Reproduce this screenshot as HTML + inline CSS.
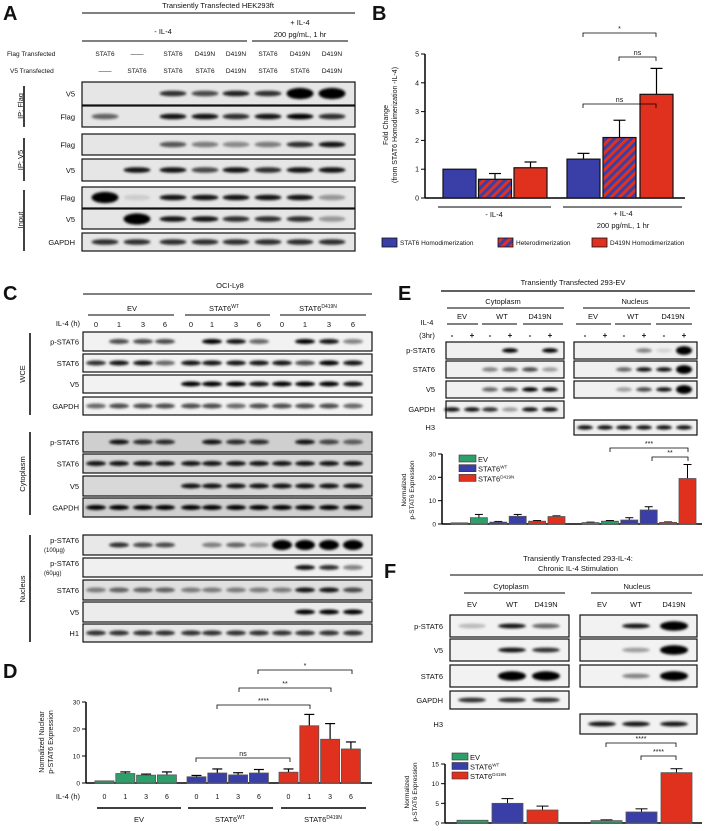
<!DOCTYPE html>
<html><head><meta charset="utf-8"><style>
body{margin:0;background:#fff}
svg{display:block;font-family:"Liberation Sans",Arial,sans-serif}
</style></head><body>
<svg id="fig" width="708" height="831" viewBox="0 0 708 831" xmlns="http://www.w3.org/2000/svg">
<defs>
<filter id="bl" x="-50%" y="-50%" width="200%" height="200%"><feGaussianBlur stdDeviation="1.3"/></filter>
<pattern id="hatch" width="6" height="6" patternUnits="userSpaceOnUse" patternTransform="rotate(45)">
<rect width="6" height="6" fill="#3a3fa8"/><rect width="3" height="6" fill="#e0301e"/></pattern>
</defs>
<g id="static" font-size="7.5" fill="#111">
<text x="3" y="20" font-size="20" font-weight="bold">A</text>
<text x="218" y="8" text-anchor="middle">Transiently Transfected HEK293ft</text>
<line x1="82" y1="13" x2="355" y2="13" stroke="#000"/>
<text x="163" y="34" text-anchor="middle">- IL-4</text>
<text x="300" y="25" text-anchor="middle">+ IL-4</text>
<text x="300" y="37" text-anchor="middle">200 pg/mL, 1 hr</text>
<line x1="82" y1="41" x2="247" y2="41" stroke="#000"/>
<line x1="252" y1="41" x2="348" y2="41" stroke="#000"/>
<text x="7" y="56" font-size="6.5">Flag Transfected</text>
<text x="10" y="73" font-size="6.5">V5 Transfected</text>
<line x1="24" y1="86" x2="24" y2="127" stroke="#000" stroke-width="1.5"/>
<line x1="24" y1="138" x2="24" y2="181" stroke="#000" stroke-width="1.5"/>
<line x1="24" y1="190" x2="24" y2="251" stroke="#000" stroke-width="1.5"/>
<text transform="translate(23,106) rotate(-90)" text-anchor="middle">IP: Flag</text>
<text transform="translate(23,160) rotate(-90)" text-anchor="middle">IP: V5</text>
<text transform="translate(23,220) rotate(-90)" text-anchor="middle">Input</text>
<text x="372" y="20" font-size="20" font-weight="bold">B</text>
<text x="3" y="300" font-size="20" font-weight="bold">C</text>
<text x="230" y="288" text-anchor="middle">OCI-Ly8</text>
<line x1="83" y1="294" x2="372" y2="294" stroke="#000"/>
<text x="132" y="311" text-anchor="middle">EV</text>
<text x="224" y="311" text-anchor="middle">STAT6<tspan font-size="5" dy="-3">WT</tspan></text>
<text x="318" y="311" text-anchor="middle">STAT6<tspan font-size="5" dy="-3">D419N</tspan></text>
<line x1="88" y1="315" x2="174" y2="315" stroke="#000"/>
<line x1="185" y1="315" x2="270" y2="315" stroke="#000"/>
<line x1="280" y1="315" x2="366" y2="315" stroke="#000"/>
<text x="80" y="326" text-anchor="end">IL-4 (h)</text>
<line x1="30" y1="333" x2="30" y2="415" stroke="#000" stroke-width="1.5"/>
<line x1="30" y1="432" x2="30" y2="515" stroke="#000" stroke-width="1.5"/>
<line x1="30" y1="535" x2="30" y2="642" stroke="#000" stroke-width="1.5"/>
<text transform="translate(25,374) rotate(-90)" text-anchor="middle">WCE</text>
<text transform="translate(25,474) rotate(-90)" text-anchor="middle">Cytoplasm</text>
<text transform="translate(25,589) rotate(-90)" text-anchor="middle">Nucleus</text>
<text x="3" y="678" font-size="20" font-weight="bold">D</text>
<text x="80" y="799" text-anchor="end">IL-4 (h)</text>
<text x="398" y="300" font-size="20" font-weight="bold">E</text>
<text x="573" y="285" text-anchor="middle">Transiently Transfected 293-EV</text>
<line x1="441" y1="291" x2="695" y2="291" stroke="#000" stroke-width="1.3"/>
<text x="503" y="304" text-anchor="middle">Cytoplasm</text>
<text x="635" y="304" text-anchor="middle">Nucleus</text>
<line x1="447" y1="308" x2="564" y2="308" stroke="#000"/>
<line x1="583" y1="308" x2="690" y2="308" stroke="#000"/>
<text x="427" y="325" text-anchor="middle">IL-4</text>
<text x="427" y="338" text-anchor="middle">(3hr)</text>
<text x="384" y="578" font-size="20" font-weight="bold">F</text>
<text x="578" y="561" text-anchor="middle">Transiently Transfected 293-IL-4:</text>
<text x="578" y="571" text-anchor="middle">Chronic IL-4 Stimulation</text>
<line x1="450" y1="575" x2="703" y2="575" stroke="#000"/>
<text x="511" y="589" text-anchor="middle">Cytoplasm</text>
<text x="637" y="589" text-anchor="middle">Nucleus</text>
<line x1="464" y1="593" x2="565" y2="593" stroke="#000"/>
<line x1="591" y1="593" x2="692" y2="593" stroke="#000"/>
</g>
<g id="dyn"></g>
</svg>
<script>
const bCategories = ['STAT6 Homodimerization','Heterodimerization','D419N Homodimerization'];
const bMinusIL4 = [1.0, 0.65, 1.05];
const bMinusErr = [0, 0.2, 0.2];
const bPlusIL4 = [1.35, 2.1, 3.6];
const bPlusErr = [0.2, 0.6, 0.9];
const bTicks = [0,1,2,3,4,5];

const dHours = ['0','1','3','6'];
const dGroups = ['EV','STAT6WT','STAT6D419N'];
const dEV = [0.8, 3.5, 2.9, 3.0];
const dWT = [2.3, 3.7, 3.0, 3.7];
const dD419N = [4.0, 21.2, 16.2, 12.6];
const dEVErr = [0, 0.6, 0.4, 1.1];
const dWTErr = [0.5, 1.5, 0.8, 1.3];
const dD419NErr = [1.2, 4.2, 5.8, 2.6];
const dTicks = [0,10,20,30];

const eCyto = [0.5, 2.7, 0.8, 3.3, 1.2, 3.2];
const eCytoErr = [0, 1.4, 0.3, 0.8, 0.3, 0.3];
const eNuc = [0.6, 1.2, 1.7, 6.0, 0.7, 19.5];
const eNucErr = [0.2, 0.3, 1.0, 1.4, 0.2, 6.0];
const eTicks = [0,10,20,30];

const fCyto = [0.7, 5.0, 3.3];
const fCytoErr = [0, 1.2, 1.0];
const fNuc = [0.6, 2.8, 12.8];
const fNucErr = [0.2, 0.8, 1.0];
const fTicks = [0,5,10,15];

const NS='http://www.w3.org/2000/svg';
const root=document.getElementById('dyn');
const GREEN='#2e9e6a', BLUE='#3a3fa8', RED='#e0301e';
function el(tag,attrs,parent){const e=document.createElementNS(NS,tag);for(const k in attrs)e.setAttribute(k,attrs[k]);(parent||root).appendChild(e);return e;}
function txt(x,y,s,size,anchor,parent){const t=el('text',{x:x,y:y,'font-size':size||7.5,'text-anchor':anchor||'middle',fill:'#111'},parent);t.textContent=s;return t;}
function line(x1,y1,x2,y2,w,parent){return el('line',{x1,y1,x2,y2,stroke:'#000','stroke-width':w||1},parent);}
function bracket(x1,x2,y,label,parent){
  const g=el('g',{},parent);
  
  
  el('path',{d:`M${x1},${y+4}V${y}H${x2}V${y+4}`,fill:'none',stroke:'#000','stroke-width':0.8},g);
  txt((x1+x2)/2,y-2,label,7,'middle',g);
}
function blot(name,x,y,w,h,lanes,vals,bg,bw,bh){
  const g=el('g',{});
  
  
  el('rect',{x:x,y:y,width:w,height:h,fill:bg||'#ededed',stroke:'#111','stroke-width':1.2},g);
  const cg=el('g',{filter:'url(#bl)'},g);
  lanes.forEach((lx,i)=>{const v=vals[i];if(v<=0)return;
    const ry=(bh||2.6)*(v>0.95?2:1);
    el('ellipse',{cx:lx,cy:y+h/2,rx:(bw||12),ry:ry,fill:'#000','fill-opacity':Math.min(1,v*1.15)},cg);});
  return g;
}
function rowLabel(x,y,s,size){return txt(x,y,s,size||7.5,'end');}

const aLanes=[105,137,173,205,236,268,300,332];
const aFlag=['STAT6','——','STAT6','D419N','D419N','STAT6','D419N','D419N'];
const aV5=['——','STAT6','STAT6','STAT6','D419N','STAT6','STAT6','D419N'];
aLanes.forEach((x,i)=>{txt(x,56,aFlag[i],6.5);txt(x,73,aV5[i],6.5);});
const aRows=[
 ['V5',82,23,[0,0,.7,.6,.75,.7,1,1]],
 ['Flag',106,21,[.5,0,.8,.8,.7,.8,.9,.7]],
 ['Flag',134,21,[0,0,.55,.4,.35,.4,.7,.8]],
 ['V5',159,22,[0,.8,.8,.6,.8,.7,.8,.8]],
 ['Flag',187,21,[1,.1,.8,.8,.8,.8,.8,.3]],
 ['V5',209,20,[0,1,.8,.8,.7,.7,.7,.3]],
 ['GAPDH',233,18,[.7,.7,.7,.7,.7,.7,.7,.7]]];
aRows.forEach(r=>{blot('blot-a-'+r[0].toLowerCase(),82,r[1],273,r[2],aLanes,r[3],'#e6e6e6',13.5,2.8);rowLabel(75,r[1]+r[2]/2+3,r[0]);});

(function(){
 const g=el('g',{});
 const x0=425,y0=198,sy=28.8; const Y=v=>y0-v*sy;
 line(x0,Y(5),x0,y0,1.5,g);line(x0,y0,685,y0,1.5,g);
 bTicks.forEach(t=>{line(x0-4,Y(t),x0,Y(t),1,g);txt(x0-6,Y(t)+2.5,String(t),7,'end',g);});
 const fills=[BLUE,'url(#hatch)',RED];
 const starts=[[443,478.5,514],[567,603,640]];
 [[bMinusIL4,bMinusErr],[bPlusIL4,bPlusErr]].forEach((s,gi)=>{
  s[0].forEach((v,i)=>{const bx=starts[gi][i],w=33;
   if(s[1][i]>0){line(bx+w/2,Y(v),bx+w/2,Y(v+s[1][i]),1.2,g);line(bx+w/2-6,Y(v+s[1][i]),bx+w/2+6,Y(v+s[1][i]),1.2,g);}
   const r=el('rect',{x:bx,y:Y(v),width:w,height:v*sy,fill:fills[i],stroke:'#111','stroke-width':1.2},g);
   
   });});
 line(438,207,551,207,1,g);line(563,207,682,207,1,g);
 txt(494,217,'- IL-4',7.5,'middle',g);txt(623,216,'+ IL-4',7.5,'middle',g);txt(623,228,'200 pg/mL, 1 hr',7.5,'middle',g);
 const t1=el('text',{transform:'translate(388,125) rotate(-90)','font-size':7,'text-anchor':'middle',fill:'#111'},g);t1.textContent='Fold Change';
 const t2=el('text',{transform:'translate(397,125) rotate(-90)','font-size':7,'text-anchor':'middle',fill:'#111'},g);t2.textContent='(from STAT6 Homodimerization -IL-4)';
 bracket(583,656,104,'ns',g);bracket(619,656,57,'ns',g);bracket(583,656,33,'*',g);
 const lx=[382,498,592];
 bCategories.forEach((c,i)=>{const r=el('rect',{x:lx[i],y:238,width:15,height:9,fill:fills[i],stroke:'#111','stroke-width':.8},g);
  
  txt(lx[i]+18,245,c,6.5,'start',g);});
})();

const cLanes=[96,119,143,165,191,212,236,259,282,305,329,353];
const cH=['0','1','3','6','0','1','3','6','0','1','3','6'];
cLanes.forEach((x,i)=>txt(x,327,cH[i],7.5));
const cRows=[
 ['p-STAT6',332,19,[0,.6,.6,.6,0,.9,.8,.5,0,.9,.8,.4],'#f2f2f2'],
 ['STAT6',354,18,[.7,.8,.8,.5,.8,.8,.8,.8,.8,.6,.9,.8],'#f2f2f2'],
 ['V5',375,18,[0,0,0,0,.9,.9,.9,.8,.9,.9,.9,.8],'#f2f2f2'],
 ['GAPDH',397,18,[.5,.6,.6,.6,.6,.6,.5,.6,.6,.6,.6,.5],'#f2f2f2'],
 ['p-STAT6',432,20,[0,.8,.7,.7,0,.8,.7,.7,0,.8,.6,.5],'#cfcfcf'],
 ['STAT6',454,19,[.8,.8,.8,.8,.8,.8,.8,.8,.8,.8,.8,.8],'#d8d8d8'],
 ['V5',476,20,[0,0,0,0,.8,.8,.8,.8,.8,.8,.8,.8],'#d8d8d8'],
 ['GAPDH',498,19,[.9,.9,.9,.9,.9,.9,.9,.9,.9,.9,.9,.9],'#d0d0d0'],
 ['p-STAT6',535,20,[0,.7,.6,.6,0,.4,.5,.3,1,1,1,1],'#e8e8e8'],
 ['p-STAT6',558,19,[0,0,0,0,0,0,0,0,0,.8,.7,.4],'#f0f0f0'],
 ['STAT6',580,20,[.4,.5,.5,.5,.4,.4,.4,.4,.4,.8,.8,.6],'#e0e0e0'],
 ['V5',602,20,[0,0,0,0,0,0,0,0,0,.9,.9,.9],'#ececec'],
 ['H1',624,18,[.7,.7,.7,.7,.7,.7,.7,.7,.7,.7,.7,.7],'#e8e8e8']];
cRows.forEach((r,i)=>{blot('blot-c-'+r[0].toLowerCase()+'-'+i,83,r[1],289,r[2],cLanes,r[3],r[4],10,2.5);
 if(i===8||i===9){rowLabel(79,r[1]+8,r[0]);txt(44,r[1]+17,i===8?'(100µg)':'(60µg)',6,'start');}
 else rowLabel(79,r[1]+r[2]/2+3,r[0]);});

(function(){
 const g=el('g',{});
 const x0=86,y0=783,sy=2.7;const Y=v=>y0-v*sy;
 line(x0,Y(30),x0,y0,1.5,g);line(x0,y0,372,y0,1.5,g);
 dTicks.forEach(t=>{line(x0-4,Y(t),x0,Y(t),1,g);txt(x0-6,Y(t)+2.5,String(t),6.5,'end',g);});
 const series=[[dEV,dEVErr,GREEN,95],[dWT,dWTErr,BLUE,187],[dD419N,dD419NErr,RED,279]];
 series.forEach((s,gi)=>{s[0].forEach((v,i)=>{const bx=s[3]+i*20.8,w=19;
  if(s[1][i]>0){line(bx+w/2,Y(v),bx+w/2,Y(v+s[1][i]),1.2,g);line(bx+w/2-5,Y(v+s[1][i]),bx+w/2+5,Y(v+s[1][i]),1.2,g);}
  const r=el('rect',{x:bx,y:Y(v),width:w,height:v*sy,fill:s[2],stroke:'#555','stroke-width':.8},g);
  
  
  txt(bx+w/2,799,dHours[i],7,'middle',g);});});
 line(97,808,181,808,1.5,g);line(188,808,273,808,1.5,g);line(281,808,366,808,1.5,g);
 txt(139,822,'EV',7.5,'middle',g);
 const a=txt(230,822,'STAT6',7.5,'middle',g);const ts=el('tspan',{'font-size':5,dy:-3},a);ts.textContent='WT';
 const b=txt(323,822,'STAT6',7.5,'middle',g);const ts2=el('tspan',{'font-size':5,dy:-3},b);ts2.textContent='D419N';
 const t1=el('text',{transform:'translate(44,742) rotate(-90)','font-size':7,'text-anchor':'middle',fill:'#111'},g);t1.textContent='Normalized Nuclear';
 const t2=el('text',{transform:'translate(53,742) rotate(-90)','font-size':7,'text-anchor':'middle',fill:'#111'},g);t2.textContent='p-STAT6 Expression';
 bracket(196,290,758,'ns',g);bracket(217,310,705,'****',g);bracket(239,331,688,'**',g);bracket(258,352,670,'*',g);
})();

const eCytLanes=[452,472,490,510,530,550], eNucLanes=[585,605,624,644,664,684];
[['EV',462,447,478],['WT',502,482,517],['D419N',540,523,563],['EV',593,576,611],['WT',633,615,651],['D419N',673,656,692]].forEach(a=>{txt(a[1],319,a[0],7.5);line(a[2],324,a[3],324,1);});
eCytLanes.concat(eNucLanes).forEach((x,i)=>txt(x,338,i%2?'+':'-',8,'middle').setAttribute('font-weight','bold'));
const eCytRows=[['p-STAT6',342,[0,0,0,.9,0,.9]],['STAT6',361,[0,0,.4,.5,.6,.3]],['V5',381,[0,0,.5,.6,.9,.8]],['GAPDH',401,[.8,.8,.7,.3,.8,.8]]];
eCytRows.forEach(r=>{blot('blot-e-cyto-'+r[0].toLowerCase(),446,r[1],118,17,eCytLanes,r[2],'#f0f0f0',8,2.2);rowLabel(435,r[1]+11,r[0]);});
const eNucRows=[[342,[0,0,0,.4,.1,1]],[361,[0,0,.5,.8,.8,1]],[381,[0,0,.3,.6,.8,1]],[420,[.8,.8,.8,.8,.8,.8]]];
eNucRows.forEach((r,i)=>blot('blot-e-nuc-'+i,574,r[0],123,i===3?15:17,eNucLanes,r[1],'#f0f0f0',8,2.2));
rowLabel(435,430,'H3');

(function(){
 const g=el('g',{});
 const x0=442,y0=524,sy=70/30;const Y=v=>y0-v*sy;
 line(x0,Y(30),x0,y0,1.5,g);line(x0,y0,702,y0,1.5,g);
 eTicks.forEach(t=>{line(x0-4,Y(t),x0,Y(t),1,g);txt(x0-6,Y(t)+2.5,String(t),6.5,'end',g);});
 const cols=[GREEN,GREEN,BLUE,BLUE,RED,RED];
 [[eCyto,eCytoErr,451],[eNuc,eNucErr,582]].forEach((s,gi)=>{s[0].forEach((v,i)=>{const bx=s[2]+i*19.4,w=17;
  if(s[1][i]>0){line(bx+w/2,Y(v),bx+w/2,Y(v+s[1][i]),1,g);line(bx+w/2-4,Y(v+s[1][i]),bx+w/2+4,Y(v+s[1][i]),1,g);}
  const r=el('rect',{x:bx,y:Y(v),width:w,height:v*sy,fill:cols[i],stroke:'#555','stroke-width':.8},g);
  
  });});
 const t1=el('text',{transform:'translate(406,490) rotate(-90)','font-size':6.5,'text-anchor':'middle',fill:'#111'},g);t1.textContent='Normalized';
 const t2=el('text',{transform:'translate(414,490) rotate(-90)','font-size':6.5,'text-anchor':'middle',fill:'#111'},g);t2.textContent='p-STAT6 Expression';
 bracket(610,688,448,'***',g);bracket(652,688,457,'**',g);
 [['EV',GREEN],['STAT6WT',BLUE],['STAT6D419N',RED]].forEach((l,i)=>{const r=el('rect',{x:459,y:455+i*9.7,width:17,height:7,fill:l[1],stroke:'#333','stroke-width':.6},g);
  
  const t=txt(478,462+i*9.7,'STAT6',7.5,'start',g);if(i===0)t.textContent='EV';else{const sp=el('tspan',{'font-size':4.5,dy:-3},t);sp.textContent=i===1?'WT':'D419N';}});
})();

const fCytLanes=[472,512,546], fNucLanes=[602,636,674];
['EV','WT','D419N'].forEach((s,i)=>{txt(fCytLanes[i],607,s,7.5);txt(fNucLanes[i],607,s,7.5);});
const fRowsC=[['p-STAT6',615,22,[.2,.8,.5]],['V5',639,22,[0,.8,.7]],['STAT6',665,22,[0,1,1]],['GAPDH',691,18,[.7,.7,.7]]];
fRowsC.forEach(r=>{blot('blot-f-cyto-'+r[0].toLowerCase(),450,r[1],119,r[2],fCytLanes,r[3],'#f2f2f2',14,2.4);rowLabel(443,r[1]+r[2]/2+3,r[0]);});
const fRowsN=[[615,22,[0,.8,1]],[639,22,[0,.3,1]],[665,22,[0,.4,1]],[714,20,[.8,.8,.8]]];
fRowsN.forEach((r,i)=>blot('blot-f-nuc-'+i,580,r[0],117,r[1],fNucLanes,r[2],'#f2f2f2',14,2.4));
rowLabel(443,727,'H3');

(function(){
 const g=el('g',{});
 const x0=445,y0=823,sy=59/15;const Y=v=>y0-v*sy;
 line(x0,Y(15),x0,y0,1.5,g);line(x0,y0,702,y0,1.5,g);
 fTicks.forEach(t=>{line(x0-4,Y(t),x0,Y(t),1,g);txt(x0-6,Y(t)+2.5,String(t),6.5,'end',g);});
 const cols=[GREEN,BLUE,RED];
 [[fCyto,fCytoErr,457],[fNuc,fNucErr,591]].forEach((s,gi)=>{s[0].forEach((v,i)=>{const bx=s[2]+i*35,w=31;
  if(s[1][i]>0){line(bx+w/2,Y(v),bx+w/2,Y(v+s[1][i]),1,g);line(bx+w/2-6,Y(v+s[1][i]),bx+w/2+6,Y(v+s[1][i]),1,g);}
  const r=el('rect',{x:bx,y:Y(v),width:w,height:v*sy,fill:cols[i],stroke:'#555','stroke-width':.8},g);
  
  });});
 const t1=el('text',{transform:'translate(409,792) rotate(-90)','font-size':6.5,'text-anchor':'middle',fill:'#111'},g);t1.textContent='Normalized';
 const t2=el('text',{transform:'translate(417,792) rotate(-90)','font-size':6.5,'text-anchor':'middle',fill:'#111'},g);t2.textContent='p-STAT6 Expression';
 bracket(606,676,743,'****',g);bracket(641,676,756,'****',g);
 [['EV',GREEN],['STAT6WT',BLUE],['STAT6D419N',RED]].forEach((l,i)=>{const r=el('rect',{x:452,y:753+i*9.5,width:16,height:7,fill:l[1],stroke:'#333','stroke-width':.6},g);
  
  const t=txt(470,760+i*9.5,'STAT6',7.5,'start',g);if(i===0)t.textContent='EV';else{const sp=el('tspan',{'font-size':4.5,dy:-3},t);sp.textContent=i===1?'WT':'D419N';}});
})();
</script>
</body></html>
